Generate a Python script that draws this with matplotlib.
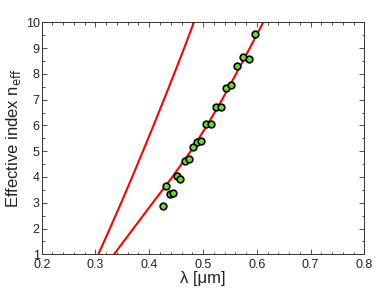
import matplotlib
matplotlib.use('Agg')
import matplotlib.pyplot as plt
from matplotlib.ticker import MultipleLocator

plt.rcParams['font.family'] = ['Liberation Sans', 'DejaVu Sans']

# measured points (wavelength in um, effective index)
meas_lam = [0.426, 0.432, 0.438, 0.445, 0.452, 0.458, 0.466, 0.474, 0.481, 0.489, 0.497,
            0.505, 0.515, 0.524, 0.533, 0.543, 0.552, 0.563, 0.575, 0.586, 0.597]
meas_n = [2.86, 3.65, 3.33, 3.39, 4.05, 3.94, 4.62, 4.70, 5.18, 5.37, 5.40,
          6.04, 6.04, 6.73, 6.73, 7.47, 7.56, 8.32, 8.67, 8.59, 9.53]

# model curves
curve_n = [1, 2, 3, 4, 5, 6, 7, 8, 9, 10]
curve1_lam = [0.3053, 0.3268, 0.3478, 0.3683, 0.3883, 0.4080, 0.4273, 0.4463, 0.4650, 0.4830]
curve2_lam = [0.3345, 0.3705, 0.4065, 0.4430, 0.4770, 0.5075, 0.5355, 0.5615, 0.5870, 0.6120]

fig = plt.figure(figsize=(3.88, 2.95), dpi=100)
ax = fig.add_axes([0.1075, 0.138, 0.8315, 0.7864])

ax.plot(curve1_lam, curve_n, color='#ff0000', lw=1.5)
ax.plot(curve2_lam, curve_n, color='#ff0000', lw=1.5)
ax.plot(meas_lam, meas_n, 'o', ms=4.8, mfc='#66e01a', mec='black', mew=1.2)

ax.set_xlim(0.2, 0.8)
ax.set_ylim(1, 10)
ax.xaxis.set_major_locator(MultipleLocator(0.1))
ax.xaxis.set_minor_locator(MultipleLocator(0.02))
ax.yaxis.set_major_locator(MultipleLocator(1))
ax.yaxis.set_minor_locator(MultipleLocator(0.5))
ax.tick_params(which='both', direction='in', top=True, right=True, colors='#333333',
               labelcolor='#222222', labelsize=9)
ax.tick_params(axis='x', pad=3.5)
ax.tick_params(axis='y', pad=1.5)
ax.tick_params(which='major', length=3.5, width=0.6)
ax.tick_params(which='minor', length=1.8, width=0.6)
for s in ax.spines.values():
    s.set_linewidth(0.7)
    s.set_color('#333333')

ax.set_xlabel('λ [μm]', fontsize=12, labelpad=0, color='#222222')
ax.set_ylabel('Effective index n$_{\\mathrm{eff}}$', fontsize=12, labelpad=2, color='#222222')

fig.savefig('out.png', dpi=100)
